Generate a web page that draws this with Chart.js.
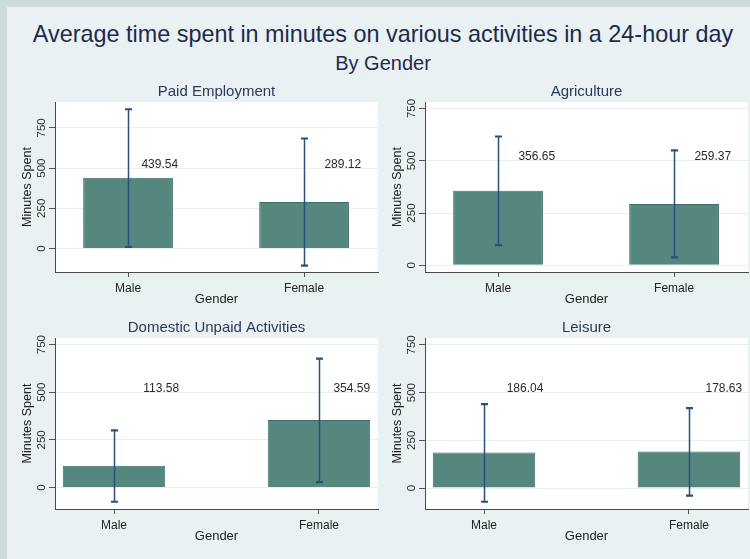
<!DOCTYPE html>
<html><head><meta charset="utf-8">
<script src="https://cdn.jsdelivr.net/npm/chart.js@4/dist/chart.umd.min.js"></script>
<style>
html,body{margin:0;padding:0;}
body{width:750px;height:559px;background:#cddbda;position:relative;overflow:hidden;font-family:"Liberation Sans",Arial,sans-serif;}
#inner{position:absolute;left:7px;top:7px;width:743px;height:552px;background:#e9f1f3;}
.title{position:absolute;left:0;width:766px;text-align:center;color:#1e2b4d;white-space:nowrap;}
#t1{top:22px;font-size:23.4px;line-height:24px;}
#t2{top:52px;font-size:20px;line-height:22px;}
canvas{position:absolute;}
</style></head>
<body>
<div id="inner"></div>
<div class="title" id="t1">Average time spent in minutes on various activities in a 24-hour day</div>
<div class="title" id="t2">By Gender</div>
<canvas id="c0" width="372" height="240" style="left:10px;top:75px;width:372px;height:240px"></canvas>
<canvas id="c1" width="372" height="240" style="left:380px;top:75px;width:372px;height:240px"></canvas>
<canvas id="c2" width="372" height="241" style="left:10px;top:311px;width:372px;height:241px"></canvas>
<canvas id="c3" width="372" height="241" style="left:380px;top:311px;width:372px;height:241px"></canvas>
<script>
// ---- data ----
const categories = ['Male', 'Female'];
const panelTitles = ['Paid Employment', 'Agriculture', 'Domestic Unpaid Activities', 'Leisure'];
const paidEmployment = [439.54, 289.12];
const agriculture = [356.65, 293];
const domesticUnpaid = [113.58, 354.59];
const leisure = [186.04, 191];
const valueLabels = [['439.54', '289.12'], ['356.65', '259.37'], ['113.58', '354.59'], ['186.04', '178.63']];
const errLow = [[10, -106], [97, 38], [-75, 28], [-72, -40]];
const errHigh = [[866, 684], [616, 550], [300, 677], [440, 419]];
const yTicks = [0, 250, 500, 750];
const xAxisTitle = 'Gender';
const yAxisTitle = 'Minutes Spent';
const labelLevel = 520;

const seriesValues = [paidEmployment, agriculture, domesticUnpaid, leisure];

// ---- layout / style (not data) ----
const yRanges = [[-146, 911], [-32, 781], [-113, 785], [-110, 786]];
const xRanges = [[-0.415, 1.42], [-0.415, 1.42], [-0.288, 1.288], [-0.288, 1.288]];
const barPct = [0.51, 0.51, 0.5, 0.5];
const labelShift = [[0.18, 0.22], [0.22, 0.22], [0.23, 0.16], [0.2, 0.17]];

const FONT = '"Liberation Sans", Arial, sans-serif';

const panelPlugin = {
  id: 'panelPlugin',
  beforeDraw(chart) {
    const {ctx, chartArea: a} = chart;
    ctx.save();
    ctx.fillStyle = '#ffffff';
    ctx.fillRect(a.left, a.top, a.right - a.left, a.bottom - a.top);
    ctx.restore();
  },
  afterDatasetsDraw(chart) {
    const {ctx, chartArea: a} = chart;
    const p = chart.options.plugins.panelPlugin;
    const xs = chart.scales.x, ys = chart.scales.y;
    ctx.save();
    // error bars
    ctx.strokeStyle = '#27507d';
    for (let i = 0; i < categories.length; i++) {
      const x = Math.round(xs.getPixelForValue(i)) + 0.5;
      const yl = ys.getPixelForValue(errLow[p.idx][i]);
      const yh = ys.getPixelForValue(errHigh[p.idx][i]);
      ctx.lineWidth = 1.5;
      ctx.beginPath(); ctx.moveTo(x, yl); ctx.lineTo(x, yh); ctx.stroke();
      ctx.lineWidth = 2.2;
      ctx.beginPath(); ctx.moveTo(x - 3.5, yl); ctx.lineTo(x + 3.5, yl);
      ctx.moveTo(x - 3.5, yh); ctx.lineTo(x + 3.5, yh); ctx.stroke();
    }
    // value labels
    ctx.fillStyle = '#2b2b2b';
    ctx.font = '12px ' + FONT;
    ctx.textAlign = 'center';
    ctx.textBaseline = 'middle';
    for (let i = 0; i < categories.length; i++) {
      ctx.fillText(valueLabels[p.idx][i], xs.getPixelForValue(i + labelShift[p.idx][i]), ys.getPixelForValue(labelLevel));
    }
    // panel title
    ctx.fillStyle = '#2a3a5c';
    ctx.font = '15px ' + FONT;
    ctx.textBaseline = 'alphabetic';
    ctx.fillText(panelTitles[p.idx], (a.left + a.right) / 2, a.top - 6);
    ctx.restore();
  }
};

function makeChart(idx) {
  const ctx = document.getElementById('c' + idx);
  return new Chart(ctx, {
    type: 'bar',
    data: {
      datasets: [{
        data: seriesValues[idx].map((v, i) => ({x: i, y: v})),
        backgroundColor: '#55877f',
        borderColor: '#3d7068',
        borderWidth: 1,
        barPercentage: barPct[idx],
        categoryPercentage: 1
      }]
    },
    options: {
      responsive: false,
      animation: false,
      devicePixelRatio: 1,
      layout: {padding: {top: 27, right: 4, left: 0, bottom: 0}},
      plugins: {
        legend: {display: false},
        tooltip: {enabled: false},
        panelPlugin: {idx}
      },
      scales: {
        x: {
          type: 'linear',
          min: xRanges[idx][0], max: xRanges[idx][1],
          offset: false,
          afterBuildTicks(s) { s.ticks = categories.map((c, i) => ({value: i})); },
          afterFit(s) { s.height = 43; s.paddingLeft = 0; s.paddingRight = 0; },
          ticks: {
            autoSkip: false, maxRotation: 0, minRotation: 0,
            callback: (v) => categories[v] ?? '',
            color: '#222222', font: {size: 12, family: FONT}, padding: 4
          },
          grid: {display: true, drawOnChartArea: false, drawTicks: true, tickLength: 5, tickColor: '#555555', offset: false},
          border: {display: true, color: '#4a4a4a', width: 1},
          title: {display: true, text: xAxisTitle, color: '#222222', font: {size: 13, family: FONT}, padding: {top: 0, bottom: 8}}
        },
        y: {
          min: yRanges[idx][0], max: yRanges[idx][1],
          afterBuildTicks(s) { s.ticks = yTicks.map(v => ({value: v})); },
          afterFit(s) { s.width = 45; s.paddingTop = 0; s.paddingBottom = 0; },
          ticks: {
            minRotation: 90, maxRotation: 90, crossAlign: 'center',
            color: '#2b2b2b', font: {size: 11.5, family: FONT}, padding: -2
          },
          grid: {color: '#e8eef1', lineWidth: 1, drawTicks: true, tickLength: 6, tickColor: '#555555'},
          border: {display: true, color: '#4a4a4a', width: 1},
          title: {display: true, text: yAxisTitle, color: '#222222', font: {size: 12.5, family: FONT}, padding: {top: 10, bottom: 0}}
        }
      }
    },
    plugins: [panelPlugin]
  });
}
[0, 1, 2, 3].forEach(makeChart);
</script>
</body></html>
